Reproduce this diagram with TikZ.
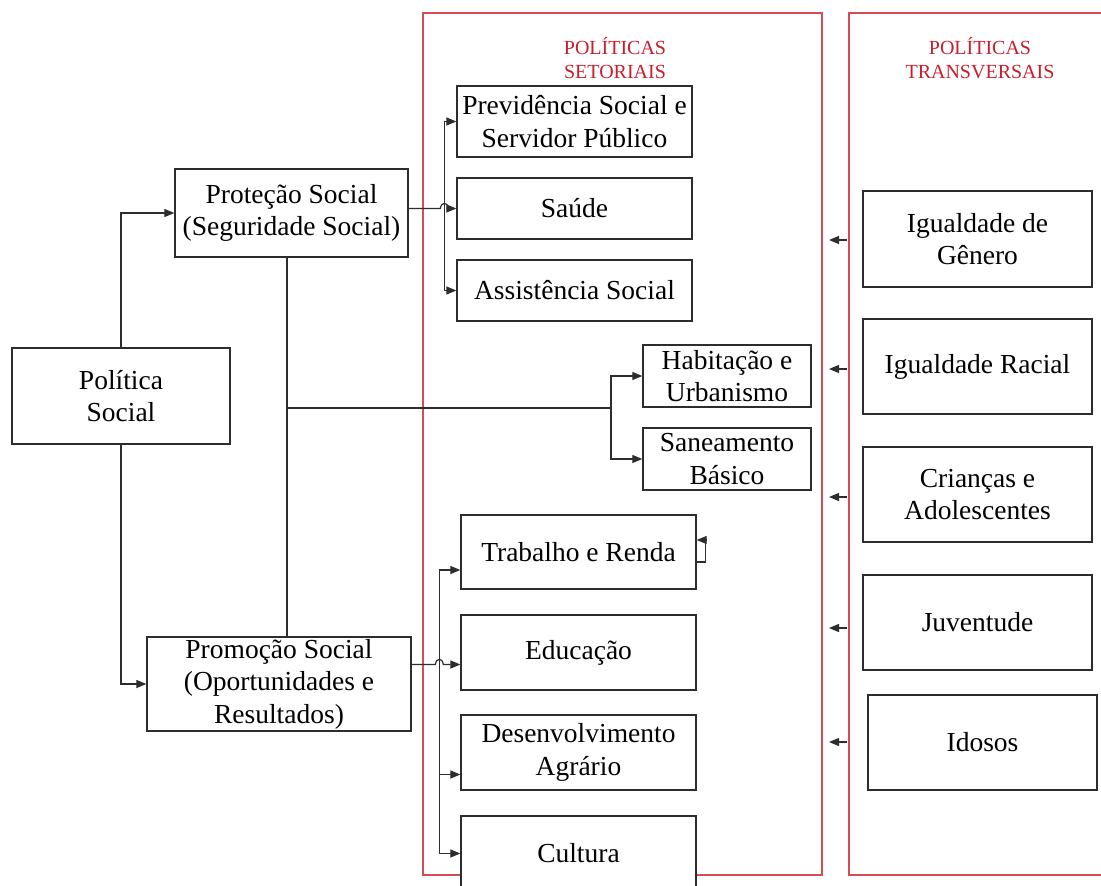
\documentclass[tikz,border=0pt]{standalone}
\usepackage{fontspec}
\setmainfont{Liberation Serif}
\usetikzlibrary{arrows.meta,calc}
\definecolor{ln}{RGB}{45,45,45}
\definecolor{redln}{RGB}{215,75,85}
\definecolor{redtx}{RGB}{200,30,45}
\begin{document}
\begin{tikzpicture}[x=1pt,y=-1pt,
  bx/.style={draw=ln, line width=1.3pt, fill=white, align=center, inner sep=0pt,
    font=\fontsize{27.5}{32.5}\selectfont},
  con/.style={draw=ln, line width=1.2pt},
  arr/.style={con, -{Triangle[length=10pt,width=8pt]}},
  arrb/.style={con, {Triangle[length=10pt,width=8pt]}-{Triangle[length=10pt,width=8pt]}},
  panel/.style={draw=redln, line width=1.3pt},
  head/.style={text=redtx, align=center, font=\fontsize{20}{24}\selectfont}]
\useasboundingbox (0,0) rectangle (1101,886);
% panels
\draw[panel] (423,13) rectangle (822,875);
\draw[panel] (849,13) rectangle (1115,875);
\node[head] (hset) at (615,58) {POLÍTICAS\\SETORIAIS};
\node[head] (htra) at (980,58) {POLÍTICAS\\TRANSVERSAIS};
% left boxes
\node[bx, minimum width=218pt, minimum height=96pt] (pol) at (121,396) {Política\\Social};
\node[bx, minimum width=233pt, minimum height=88pt] (prot) at (291.5,213) {Proteção Social\\(Seguridade Social)};
\node[bx, minimum width=264pt, minimum height=94pt] (promo) at (279,684) {Promoção Social\\(Oportunidades e\\Resultados)};
% sectoral boxes
\node[bx, minimum width=235pt, minimum height=71pt] (prev) at (574.5,121.5) {Previdência Social e\\Servidor Público};
\node[bx, minimum width=235pt, minimum height=61pt] (saude) at (574.5,208.5) {Saúde};
\node[bx, minimum width=235pt, minimum height=61pt] (assist) at (574.5,290.5) {Assistência Social};
\node[bx, minimum width=168pt, minimum height=62pt] (hab) at (727,376) {Habitação e\\Urbanismo};
\node[bx, minimum width=168pt, minimum height=62pt] (san) at (727,459) {Saneamento\\Básico};
\node[bx, minimum width=235pt, minimum height=74pt] (trab) at (578.5,552) {Trabalho e Renda};
\node[bx, minimum width=235pt, minimum height=75pt] (edu) at (578.5,652.5) {Educação};
\node[bx, minimum width=235pt, minimum height=75pt] (desv) at (578.5,752.5) {Desenvolvimento\\Agrário};
\node[bx, minimum width=235pt, minimum height=75pt] (cult) at (578.5,853.5) {Cultura};
% transversal boxes
\node[bx, minimum width=229pt, minimum height=96pt] (gen) at (977.5,239) {Igualdade de\\Gênero};
\node[bx, minimum width=229pt, minimum height=95pt] (rac) at (977.5,366.5) {Igualdade Racial};
\node[bx, minimum width=229pt, minimum height=95pt] (cri) at (977.5,494.5) {Crianças e\\Adolescentes};
\node[bx, minimum width=229pt, minimum height=95pt] (juv) at (977.5,622.5) {Juventude};
\node[bx, minimum width=229pt, minimum height=95pt] (ido) at (982.5,742.5) {Idosos};
% left connectors
\draw[arr] (pol.north) |- (prot.west);
\draw[arr] (pol.south) |- (promo.west);
\coordinate (pdown) at ([xshift=-4.5pt]prot.south);
\draw[con] (pdown) -- (pdown |- promo.north);
\coordinate (hsplit) at (611,408);
\draw[con] (pdown |- hsplit) -- (hsplit);
\draw[arr] (hsplit) |- (hab.west);
\draw[arr] (hsplit) |- (san.west);
% protection to sectoral
\draw[arrb] (prev.west) -- ++(-12,0) |- (assist.west);
\draw[arr] (prot.east |- saude.west) -- ($(saude.west)+(-16,0)$)
  .. controls ($(saude.west)+(-15,-7)$) and ($(saude.west)+(-9,-7)$) .. ($(saude.west)+(-8,0)$)
  -- (saude.west);
% promotion to sectoral
\coordinate (tin) at ([yshift=-18pt]trab.west);
\coordinate (ein) at ([yshift=-12pt]edu.west);
\coordinate (din) at ([yshift=-22pt]desv.west);
\draw[arrb] (tin) -- ++(-21,0) |- (cult.west);
\draw[arr] ($(tin)+(-21,0)$) |- (din);
\draw[arr] (promo.east |- ein) -- ($(ein)+(-25,0)$)
  .. controls ($(ein)+(-24,-7)$) and ($(ein)+(-18,-7)$) .. ($(ein)+(-17,0)$)
  -- (ein);
% self loop on Trabalho e Renda
\draw[arr] ([yshift=-10pt]trab.east) -- ++(9,0) -- ++(0,-22) -- ([yshift=12pt]trab.east);
% transversal arrows
\coordinate (a1) at (847,240);
\coordinate (a2) at (847,369);
\coordinate (a3) at (847,497);
\coordinate (a4) at (847,628);
\coordinate (a5) at (847,742);
\foreach \c in {a1,a2,a3,a4,a5} \draw[arr] (\c) -- ++(-18,0);
\end{tikzpicture}
\end{document}
